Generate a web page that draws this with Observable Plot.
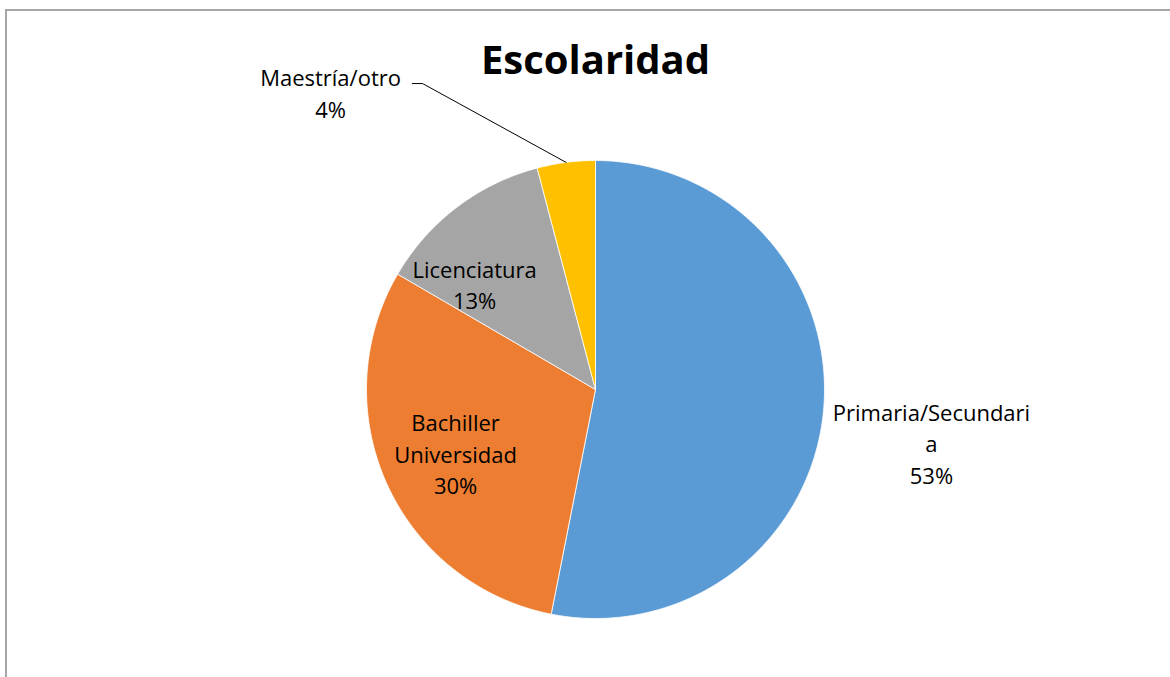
<!DOCTYPE html>
<html>
<head>
<meta charset="utf-8">
<script src="https://cdn.jsdelivr.net/npm/d3@7"></script>
<script src="https://cdn.jsdelivr.net/npm/@observablehq/plot@0.6"></script>
<style>
  html, body { margin: 0; padding: 0; background: #fff; overflow: hidden; }
  #wrap { position: relative; width: 1170px; height: 677px; }
  #border { position: absolute; left: 5px; top: 9px; width: 1200px; height: 700px;
            border-left: 2px solid #a6a6a6; border-top: 2px solid #a6a6a6; pointer-events: none; }
</style>
</head>
<body>
<div id="wrap"><div id="chart"></div><div id="border"></div></div>
<script>
// ---- data ----
const title = "Escolaridad";
const categories = ["Primaria/Secundaria", "Bachiller Universidad", "Licenciatura", "Maestría/otro"];
const labelTexts = ["Primaria/Secundari\na", "Bachiller\nUniversidad", "Licenciatura", "Maestría/otro"];
const shares = [53.1, 30.3, 12.5, 4.1];
const colors = ["#5B9BD5", "#ED7D31", "#A5A5A5", "#FFC000"];

// ---- layout (label anchors in pie-radius units, relative to centre) ----
const labelAnchor = [[1.467, -0.231], [-0.611, -0.275], [-0.528, 0.463], [-1.157, 1.30]];
const leaderElbow = [[-0.80, 1.336], [-0.755, 1.336]];

const pie = d3.pie().sort(null).value(d => d)(shares);
const total = d3.sum(shares);

// slice outlines sampled along the arc
const slicePts = [];
pie.forEach((p, i) => {
  const n = Math.max(2, Math.ceil((p.endAngle - p.startAngle) / 0.01));
  slicePts.push({cat: categories[i], x: 0, y: 0});
  for (let k = 0; k <= n; k++) {
    const a = p.startAngle + (p.endAngle - p.startAngle) * k / n;
    slicePts.push({cat: categories[i], x: Math.sin(a), y: Math.cos(a)});
  }
  slicePts.push({cat: categories[i], x: 0, y: 0});
});

const labels = pie.map((p, i) => ({
  text: labelTexts[i] + "\n" + Math.round(p.value / total * 100) + "%",
  x: labelAnchor[i][0], y: labelAnchor[i][1]
}));

// leader line for the small slice
const last = pie[pie.length - 1];
const midA = (last.startAngle + last.endAngle) / 2;
const leader = [
  {x: leaderElbow[0][0], y: leaderElbow[0][1]},
  {x: leaderElbow[1][0], y: leaderElbow[1][1]},
  {x: Math.sin(midA), y: Math.cos(midA)}
];

const chart = Plot.plot({
  width: 1170, height: 677,
  margin: 0,
  x: {domain: [-1, 1], range: [366, 824], axis: null},
  y: {domain: [-1, 1], range: [618, 160], axis: null},
  color: {domain: categories, range: colors},
  style: {fontFamily: "'Open Sans', Lato, sans-serif", background: "#fff"},
  marks: [
    Plot.line(slicePts, {x: "x", y: "y", z: "cat", fill: "cat", stroke: "#fff", strokeWidth: 0.8, curve: "linear"}),
    Plot.line(leader, {x: "x", y: "y", stroke: "#000", strokeWidth: 1}),
    Plot.text(labels, {x: "x", y: "y", text: "text", fontSize: 22, lineHeight: 1.43, fill: "#000", textAnchor: "middle"}),
    Plot.text([title], {x: 0, frameAnchor: "top", dy: 73, lineAnchor: "bottom", fontSize: 40, fontWeight: "bold", fill: "#000", textAnchor: "middle"})
  ]
});
document.getElementById("chart").appendChild(chart);
</script>
</body>
</html>
